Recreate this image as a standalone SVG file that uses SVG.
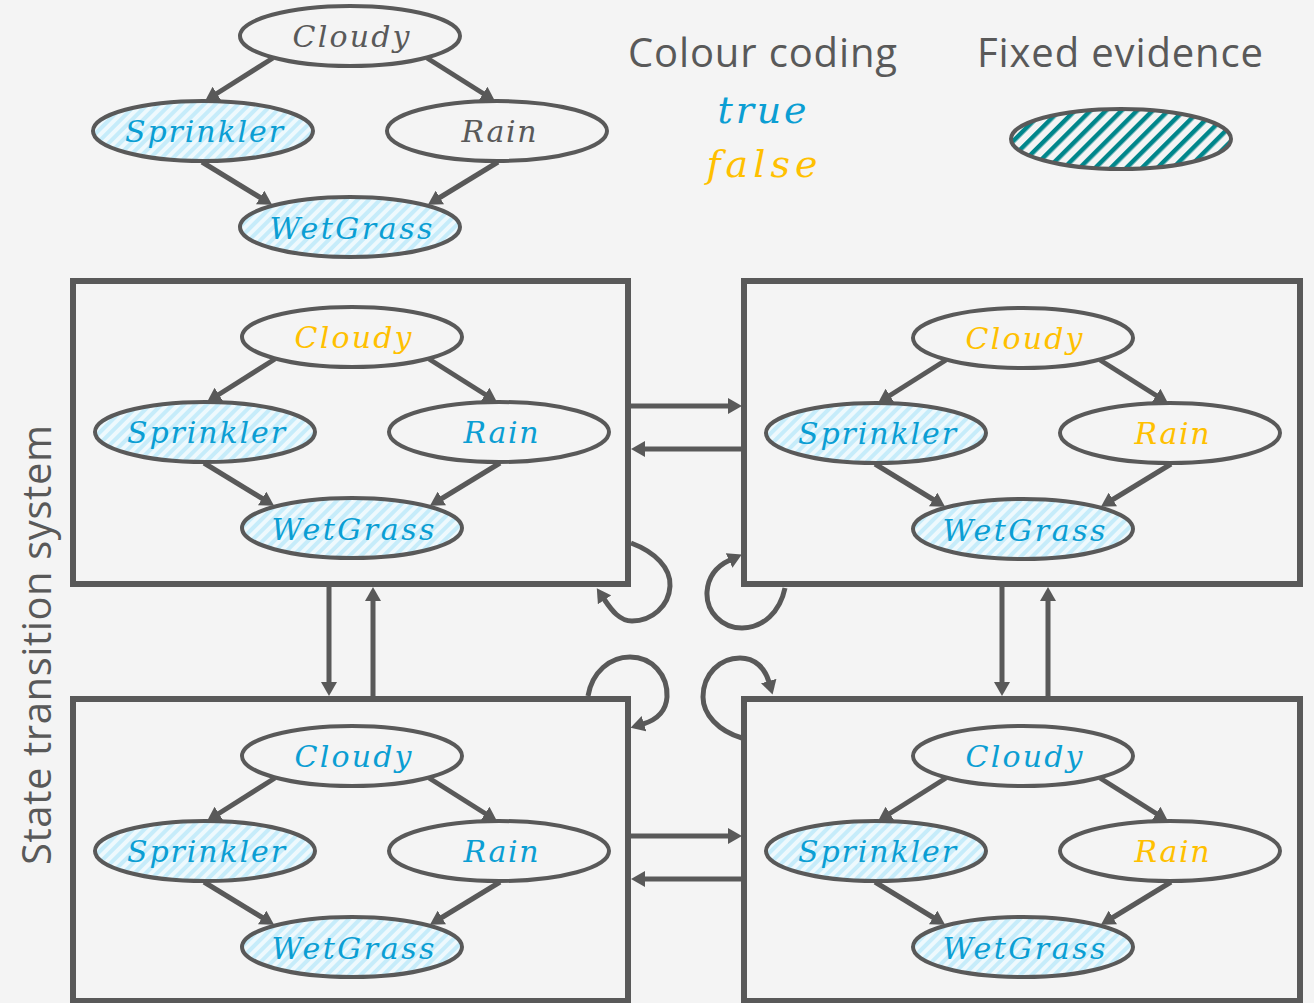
<svg xmlns="http://www.w3.org/2000/svg" width="1314" height="1003" viewBox="0 0 1314 1003">
  <style>
    .box{fill:none;stroke:#595959;stroke-width:6}
    .node ellipse{stroke:#595959;stroke-width:4}
    .plain{fill:#f4f4f4}
    .ev{fill:url(#hatch)}
    .lbl{font-family:"DejaVu Serif","Liberation Serif",serif;font-style:italic;font-size:30px;text-anchor:middle}
    .t{fill:#0b9ed3}
    .f{fill:#ffc000}
    .g{fill:#595959}
    .edge{fill:none;stroke:#595959;stroke-width:5;marker-end:url(#arr)}
    .head{font-family:"Open Sans","Noto Sans","Liberation Sans",sans-serif;font-size:40px;fill:#595959}
  </style>
  <defs>
    <marker id="arr" markerUnits="userSpaceOnUse" markerWidth="15" markerHeight="16" refX="1" refY="8" orient="auto" viewBox="0 0 15 16">
      <path d="M0,0 L14,8 L0,16 z" fill="#595959"/>
    </marker>
    <!-- light-blue diagonal hatch for observed variables -->
    <pattern id="hatch" patternUnits="userSpaceOnUse" width="8" height="8" patternTransform="rotate(45)">
      <rect width="8" height="8" fill="#eef9fd"/>
      <rect width="4" height="8" fill="#c6ecfa"/>
    </pattern>
    <!-- teal hatch for the legend swatch -->
    <pattern id="hatchTeal" patternUnits="userSpaceOnUse" width="11" height="11" patternTransform="rotate(45)">
      <rect width="11" height="11" fill="#f4f4f4"/>
      <rect width="4.5" height="11" fill="#00868b"/>
    </pattern>
  </defs>

  <rect width="1314" height="1003" fill="#f4f4f4"/>

  <!-- Bayesian network structure -->
  <g id="network">
    <g class="edges">
      <line class="edge" x1="273" y1="58" x2="216" y2="94"/>
      <line class="edge" x1="427" y1="58" x2="484" y2="94"/>
      <line class="edge" x1="202" y1="162" x2="261" y2="198"/>
      <line class="edge" x1="498" y1="162" x2="439" y2="198"/>
    </g>
    <g id="net-cloudy" class="node"><ellipse class="plain" cx="350" cy="36" rx="110" ry="30"/><text class="lbl g" x="351" y="47" textLength="117">Cloudy</text></g>
    <g id="net-sprinkler" class="node"><ellipse class="ev" cx="203" cy="131" rx="110" ry="30"/><text class="lbl t" x="204" y="142" textLength="158">Sprinkler</text></g>
    <g id="net-rain" class="node"><ellipse class="plain" cx="497" cy="131" rx="110" ry="30"/><text class="lbl g" x="499" y="142" textLength="75">Rain</text></g>
    <g id="net-wetgrass" class="node"><ellipse class="ev" cx="350" cy="227" rx="110" ry="30"/><text class="lbl t" x="351" y="239" textLength="163">WetGrass</text></g>
  </g>

  <!-- legend -->
  <g id="legend">
    <text class="head" x="628" y="67" textLength="269">Colour coding</text>
    <text class="lbl t" x="762" y="123" style="font-size:38px" textLength="89">true</text>
    <text class="lbl f" x="762" y="177" style="font-size:38px" textLength="111">false</text>
    <text class="head" x="977" y="67" textLength="286">Fixed evidence</text>
    <ellipse cx="1121" cy="139" rx="110" ry="30" fill="url(#hatchTeal)" stroke="#595959" stroke-width="4"/>
  </g>

  <text class="head" transform="translate(51,645) rotate(-90)" text-anchor="middle" textLength="440">State transition system</text>

  <!-- state 1: top left -->
  <g id="state1">
    <rect class="box" x="73" y="281" width="555" height="303"/>
    <g transform="translate(2,301)">
      <line class="edge" x1="273" y1="58" x2="216" y2="94"/>
      <line class="edge" x1="427" y1="58" x2="484" y2="94"/>
      <line class="edge" x1="202" y1="162" x2="261" y2="198"/>
      <line class="edge" x1="498" y1="162" x2="439" y2="198"/>
      <g id="s1-cloudy" class="node"><ellipse class="plain" cx="350" cy="36" rx="110" ry="30"/><text class="lbl f" x="351" y="47" textLength="117">Cloudy</text></g>
      <g id="s1-sprinkler" class="node"><ellipse class="ev" cx="203" cy="131" rx="110" ry="30"/><text class="lbl t" x="204" y="142" textLength="158">Sprinkler</text></g>
      <g id="s1-rain" class="node"><ellipse class="plain" cx="497" cy="131" rx="110" ry="30"/><text class="lbl t" x="499" y="142" textLength="75">Rain</text></g>
      <g id="s1-wetgrass" class="node"><ellipse class="ev" cx="350" cy="227" rx="110" ry="30"/><text class="lbl t" x="351" y="239" textLength="163">WetGrass</text></g>
    </g>
  </g>

  <!-- state 2: top right -->
  <g id="state2">
    <rect class="box" x="744" y="281" width="556" height="303"/>
    <g transform="translate(673,302)">
      <line class="edge" x1="273" y1="58" x2="216" y2="94"/>
      <line class="edge" x1="427" y1="58" x2="484" y2="94"/>
      <line class="edge" x1="202" y1="162" x2="261" y2="198"/>
      <line class="edge" x1="498" y1="162" x2="439" y2="198"/>
      <g id="s2-cloudy" class="node"><ellipse class="plain" cx="350" cy="36" rx="110" ry="30"/><text class="lbl f" x="351" y="47" textLength="117">Cloudy</text></g>
      <g id="s2-sprinkler" class="node"><ellipse class="ev" cx="203" cy="131" rx="110" ry="30"/><text class="lbl t" x="204" y="142" textLength="158">Sprinkler</text></g>
      <g id="s2-rain" class="node"><ellipse class="plain" cx="497" cy="131" rx="110" ry="30"/><text class="lbl f" x="499" y="142" textLength="75">Rain</text></g>
      <g id="s2-wetgrass" class="node"><ellipse class="ev" cx="350" cy="227" rx="110" ry="30"/><text class="lbl t" x="351" y="239" textLength="163">WetGrass</text></g>
    </g>
  </g>

  <!-- state 3: bottom left -->
  <g id="state3">
    <rect class="box" x="73" y="699" width="555" height="302"/>
    <g transform="translate(2,720)">
      <line class="edge" x1="273" y1="58" x2="216" y2="94"/>
      <line class="edge" x1="427" y1="58" x2="484" y2="94"/>
      <line class="edge" x1="202" y1="162" x2="261" y2="198"/>
      <line class="edge" x1="498" y1="162" x2="439" y2="198"/>
      <g id="s3-cloudy" class="node"><ellipse class="plain" cx="350" cy="36" rx="110" ry="30"/><text class="lbl t" x="351" y="47" textLength="117">Cloudy</text></g>
      <g id="s3-sprinkler" class="node"><ellipse class="ev" cx="203" cy="131" rx="110" ry="30"/><text class="lbl t" x="204" y="142" textLength="158">Sprinkler</text></g>
      <g id="s3-rain" class="node"><ellipse class="plain" cx="497" cy="131" rx="110" ry="30"/><text class="lbl t" x="499" y="142" textLength="75">Rain</text></g>
      <g id="s3-wetgrass" class="node"><ellipse class="ev" cx="350" cy="227" rx="110" ry="30"/><text class="lbl t" x="351" y="239" textLength="163">WetGrass</text></g>
    </g>
  </g>

  <!-- state 4: bottom right -->
  <g id="state4">
    <rect class="box" x="744" y="699" width="556" height="302"/>
    <g transform="translate(673,720)">
      <line class="edge" x1="273" y1="58" x2="216" y2="94"/>
      <line class="edge" x1="427" y1="58" x2="484" y2="94"/>
      <line class="edge" x1="202" y1="162" x2="261" y2="198"/>
      <line class="edge" x1="498" y1="162" x2="439" y2="198"/>
      <g id="s4-cloudy" class="node"><ellipse class="plain" cx="350" cy="36" rx="110" ry="30"/><text class="lbl t" x="351" y="47" textLength="117">Cloudy</text></g>
      <g id="s4-sprinkler" class="node"><ellipse class="ev" cx="203" cy="131" rx="110" ry="30"/><text class="lbl t" x="204" y="142" textLength="158">Sprinkler</text></g>
      <g id="s4-rain" class="node"><ellipse class="plain" cx="497" cy="131" rx="110" ry="30"/><text class="lbl f" x="499" y="142" textLength="75">Rain</text></g>
      <g id="s4-wetgrass" class="node"><ellipse class="ev" cx="350" cy="227" rx="110" ry="30"/><text class="lbl t" x="351" y="239" textLength="163">WetGrass</text></g>
    </g>
  </g>

  <!-- transitions between states -->
  <g id="transitions">
    <line class="edge" x1="631" y1="406" x2="729" y2="406"/>
    <line class="edge" x1="741" y1="449" x2="644" y2="449"/>
    <line class="edge" x1="631" y1="836" x2="729" y2="836"/>
    <line class="edge" x1="741" y1="879" x2="644" y2="879"/>
    <line class="edge" x1="329" y1="587" x2="329" y2="683"/>
    <line class="edge" x1="373" y1="696" x2="373" y2="600"/>
    <line class="edge" x1="1002" y1="587" x2="1002" y2="683"/>
    <line class="edge" x1="1048" y1="696" x2="1048" y2="600"/>
    <!-- self loops -->
    <path class="edge" d="M631,543 C655,552 671,568 670,586 C669,606 652,621 632,621 C620,621 612,611 604,599"/>
    <path class="edge" d="M785,588 C780,612 763,628 742,628 C722,628 706,612 707,592 C708,577 717,566 730,560"/>
    <path class="edge" d="M588,696 C592,672 610,657 630,657 C652,657 668,675 667,697 C666,712 656,720 643,724"/>
    <path class="edge" d="M742,738 C718,731 703,714 703,697 C703,674 720,658 740,658 C755,658 765,668 769,682"/>
  </g>
</svg>
